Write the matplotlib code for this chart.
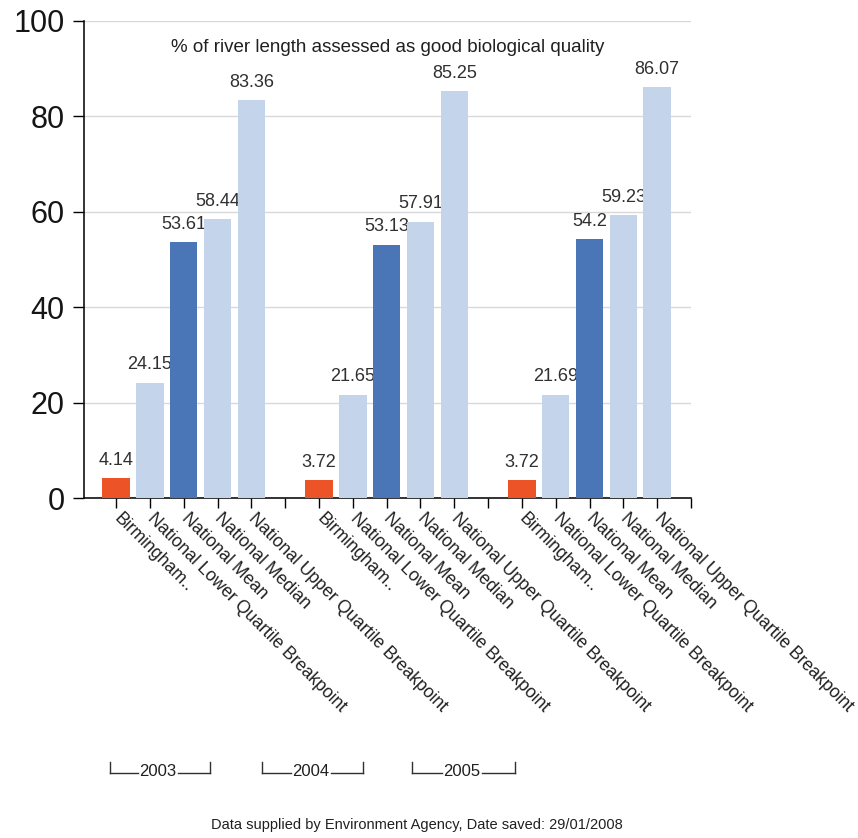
import matplotlib
matplotlib.use("Agg")
import matplotlib.pyplot as plt
from matplotlib.lines import Line2D

plt.rcParams['font.family'] = ['Liberation Sans', 'DejaVu Sans']

# Data
years = ['2003', '2004', '2005']
series = ['Birmingham..', 'National Lower Quartile Breakpoint', 'National Mean',
          'National Median', 'National Upper Quartile Breakpoint']
values_2003 = [4.14, 24.15, 53.61, 58.44, 83.36]
values_2004 = [3.72, 21.65, 53.13, 57.91, 85.25]
values_2005 = [3.72, 21.69, 54.2, 59.23, 86.07]
yticks = [0, 20, 40, 60, 80, 100]
title = '% of river length assessed as good biological quality'
footer = 'Data supplied by Environment Agency, Date saved: 29/01/2008'

colors = ['#EC5326', '#C4D4EA', '#4A76B8', '#C4D4EA', '#C4D4EA']

W, H = 858, 838
fig = plt.figure(figsize=(W / 100, H / 100), dpi=100)
ax = fig.add_axes([84 / W, (H - 498) / H, (691 - 84) / W, 477 / H])

group_vals = [values_2003, values_2004, values_2005]
slot = len(series) + 1
tick_pos, tick_lab = [], []
for g, vals in enumerate(group_vals):
    for i, (name, v) in enumerate(zip(series, vals)):
        x = g * slot + i
        ax.bar(x, v, width=0.81, color=colors[i], zorder=3)
        ax.annotate(f'{v:g}', (x, v), xytext=(0, 7), textcoords='offset points',
                    ha='center', va='bottom', fontsize=13, color='#303030')
        tick_pos.append(x)
        tick_lab.append(name)
    # empty slot separating the years
    tick_pos.append(g * slot + len(series))
    tick_lab.append('')

ax.set_xlim(-0.95, 16.95)
ax.set_ylim(0, 100)
ax.set_xticks(tick_pos)
ax.set_xticklabels(tick_lab, rotation=-45, ha='left', va='center',
                   rotation_mode='anchor', fontsize=12.7, color='#202020')
ax.set_yticks(yticks)
ax.set_yticklabels([str(t) for t in yticks], fontsize=22, color='#151515')
ax.tick_params(axis='y', length=8, width=1, pad=6)
ax.tick_params(axis='x', length=7, width=1, pad=6)

ax.grid(axis='y', color='#d8d8d8', linewidth=1, zorder=0)
for s in ['top', 'right']:
    ax.spines[s].set_visible(False)
for s in ['left', 'bottom']:
    ax.spines[s].set_linewidth(1.2)
    ax.spines[s].set_color('#101010')

ax.text(0.5, 0.945, title, transform=ax.transAxes, ha='center', va='center',
        fontsize=13.5, color='#202020')

# Year brackets beneath the category labels
brackets = [(110, 210, 158), (262, 363, 311), (412, 515, 462)]
top_y, bot_y = 762, 773
for (x0, x1, xt), yr in zip(brackets, years):
    tw = 20
    segs = [((x0, x0), (top_y, bot_y)), ((x0, xt - tw), (bot_y, bot_y)),
            ((xt + tw, x1), (bot_y, bot_y)), ((x1, x1), (bot_y, top_y))]
    for xs, ys in segs:
        fig.add_artist(Line2D([v / W for v in xs], [1 - v / H for v in ys],
                              color='#303030', linewidth=1))
    fig.text(xt / W, 1 - 771 / H, yr, ha='center', va='center', fontsize=12,
             color='#202020')

fig.text(417 / W, 1 - 825 / H, footer, ha='center', va='center', fontsize=10.5,
         color='#202020')

fig.savefig('out.png', dpi=100, facecolor='white')
